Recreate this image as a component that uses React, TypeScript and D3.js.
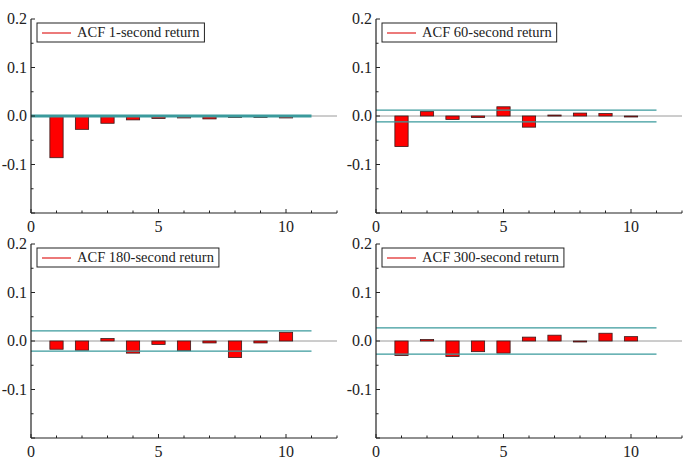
import React, { useRef, useEffect } from "react";
import * as d3 from "d3";

const lags = [1, 2, 3, 4, 5, 6, 7, 8, 9, 10];

const acf1s = [-0.086, -0.0275, -0.015, -0.008, -0.005, -0.004, -0.006, -0.003, -0.003, -0.004];
const acf60s = [-0.063, 0.009, -0.007, -0.003, 0.019, -0.023, 0.002, 0.006, 0.005, -0.002];
const acf180s = [-0.017, -0.019, 0.005, -0.025, -0.007, -0.02, -0.004, -0.034, -0.004, 0.018];
const acf300s = [-0.03, 0.003, -0.032, -0.022, -0.025, 0.008, 0.012, -0.001, 0.016, 0.009];

const labels = ["ACF 1-second return", "ACF 60-second return", "ACF 180-second return", "ACF 300-second return"];
const bands = [0.0015, 0.012, 0.021, 0.027];
const series = [acf1s, acf60s, acf180s, acf300s];

const yTicks = [-0.1, 0.0, 0.1, 0.2];
const xTicks = [0, 5, 10];

const App = () => {
  const svgRef = useRef();

  useEffect(() => {
    const svg = d3.select(svgRef.current);
    svg.selectAll("*").remove();

    const panels = [
      { left: 31, top: 19 },
      { left: 376, top: 19 },
      { left: 31, top: 244 },
      { left: 376, top: 244 },
    ];
    const width = 306;
    const height = 194;
    const font = "Liberation Serif";

    panels.forEach((p, i) => {
      const g = svg.append("g").attr("transform", `translate(${p.left},${p.top})`);

      const x = d3.scaleLinear().domain([0, 12]).range([0, width]);
      const y = d3.scaleLinear().domain([-0.2, 0.2]).range([height, 0]);

      // zero line
      g.append("line")
        .attr("x1", x(0)).attr("x2", x(12))
        .attr("y1", y(0)).attr("y2", y(0))
        .attr("stroke", "#9a9a9a").attr("stroke-width", 1);

      // bars
      g.selectAll("rect.bar")
        .data(series[i])
        .enter()
        .append("rect")
        .attr("class", "bar")
        .attr("x", (d, j) => x(lags[j] - 0.26))
        .attr("width", x(0.52) - x(0))
        .attr("y", (d) => y(Math.max(0, d)))
        .attr("height", (d) => Math.max(1, Math.abs(y(d) - y(0))))
        .attr("fill", "#ff0000")
        .attr("stroke", "#3a1a1a")
        .attr("stroke-width", 0.8);

      // confidence bands
      [bands[i], -bands[i]].forEach((b) => {
        g.append("line")
          .attr("x1", x(0)).attr("x2", x(11))
          .attr("y1", y(b)).attr("y2", y(b))
          .attr("stroke", "#3a9a9c").attr("stroke-width", 1.3);
      });

      // axes, ticks pointing inward
      const xAxis = g.append("g").attr("transform", `translate(0,${height})`);
      xAxis.append("line").attr("x1", 0).attr("x2", width).attr("stroke", "#222").attr("stroke-width", 1.2);
      d3.range(0, 13).forEach((t) => {
        xAxis.append("line")
          .attr("x1", x(t)).attr("x2", x(t))
          .attr("y1", 0).attr("y2", t % 5 === 0 ? -4 : -2.5)
          .attr("stroke", "#222");
      });
      xTicks.forEach((t) => {
        xAxis.append("text")
          .attr("x", x(t)).attr("y", 19)
          .attr("text-anchor", "middle")
          .style("font-family", font).style("font-size", "16px").attr("fill", "#222")
          .text(t);
      });

      const yAxis = g.append("g");
      yAxis.append("line").attr("y1", 0).attr("y2", height).attr("stroke", "#222").attr("stroke-width", 1.2);
      d3.range(-4, 5).forEach((k) => {
        const v = k * 0.05;
        yAxis.append("line")
          .attr("x1", 0).attr("x2", k % 2 === 0 ? 4 : 2.5)
          .attr("y1", y(v)).attr("y2", y(v))
          .attr("stroke", "#222");
      });
      yTicks.forEach((t) => {
        yAxis.append("text")
          .attr("x", -4).attr("y", y(t) + 5)
          .attr("text-anchor", "end")
          .style("font-family", font).style("font-size", "16px").attr("fill", "#222")
          .text(t.toFixed(1));
      });

      // legend
      const lg = g.append("g").attr("transform", "translate(6,4)");
      const txt = lg.append("text")
        .attr("x", 40).attr("y", 14)
        .style("font-family", font).style("font-size", "14.5px").attr("fill", "#222")
        .text(labels[i]);
      const tw = txt.node().getComputedTextLength();
      lg.insert("rect", "text")
        .attr("x", 0).attr("y", 0)
        .attr("width", tw + 45).attr("height", 19)
        .attr("fill", "white").attr("stroke", "#222").attr("stroke-width", 1);
      lg.append("line")
        .attr("x1", 5).attr("x2", 34)
        .attr("y1", 10).attr("y2", 10)
        .attr("stroke", "#e02020").attr("stroke-width", 1.2);
    });
  }, []);

  return (
    <svg
      ref={svgRef}
      width={691}
      height={468}
      style={{ position: "absolute", left: 0, top: 0, background: "white" }}
    ></svg>
  );
};

export default App;
